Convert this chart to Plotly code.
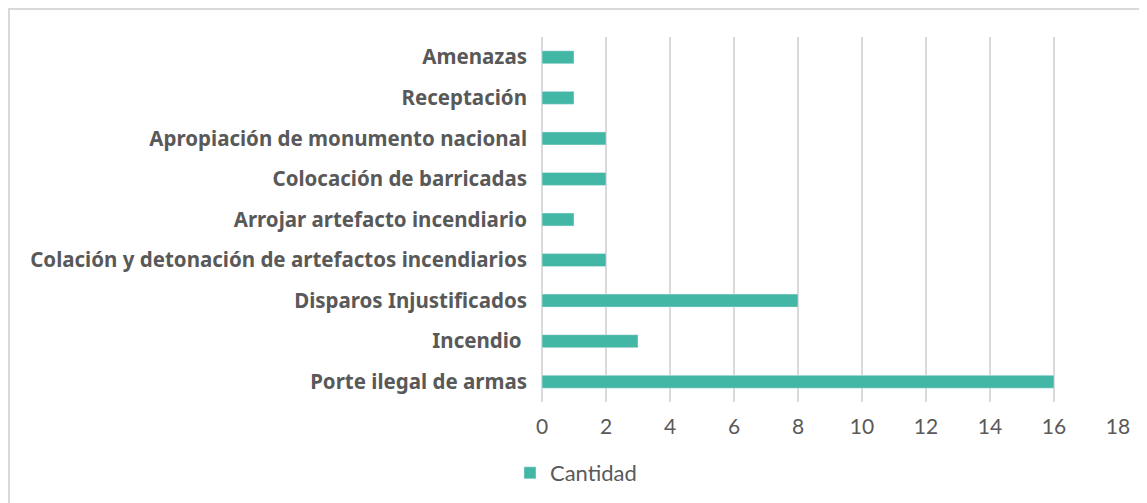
import plotly.graph_objects as go

categorias = [
    "Porte ilegal de armas",
    "Incendio ",
    "Disparos Injustificados",
    "Colación y detonación de artefactos incendiarios",
    "Arrojar artefacto incendiario",
    "Colocación de barricadas",
    "Apropiación de monumento nacional",
    "Receptación",
    "Amenazas",
]
cantidad = [16, 3, 8, 2, 1, 2, 2, 1, 1]
ticks_x = [0, 2, 4, 6, 8, 10, 12, 14, 16, 18]

color_barra = "#43B7A5"
gris_texto = "#595959"

fig = go.Figure()
fig.add_trace(go.Bar(
    x=cantidad,
    y=categorias,
    orientation="h",
    name="Cantidad",
    marker=dict(color=color_barra),
    width=0.32,
    showlegend=True,
))

fig.update_xaxes(
    range=[0, 18],
    tickvals=ticks_x,
    showgrid=True,
    gridcolor="#D9D9D9",
    gridwidth=1.5,
    zeroline=True,
    zerolinecolor="#D9D9D9",
    zerolinewidth=1.5,
    tickfont=dict(family="Lato", size=21, color=gris_texto),
    ticks="",
    ticklabelstandoff=10,
    automargin=False,
)
fig.update_yaxes(
    tickfont=dict(family="Noto Sans", size=20.5, color=gris_texto, weight="bold"),
    ticks="",
    ticklabelstandoff=14,
    automargin=False,
)

# marco gris del gráfico (borde de la figura)
fig.add_shape(
    type="rect", xref="paper", yref="paper",
    x0=-533 / 576, x1=1.2, y0=-0.4, y1=1 + 28 / 365,
    line=dict(color="#D9D9D9", width=2),
)

fig.update_layout(
    width=1139,
    height=495,
    margin=dict(l=534, r=29, t=29, b=101, autoexpand=False),
    plot_bgcolor="white",
    paper_bgcolor="white",
    font=dict(family="Lato", color=gris_texto),
    legend=dict(
        orientation="h",
        x=-0.0556, y=-0.137,
        xanchor="left", yanchor="top",
        font=dict(family="Lato", size=22, color=gris_texto),
        itemwidth=30,
    ),
)

fig.write_html("out.html")
